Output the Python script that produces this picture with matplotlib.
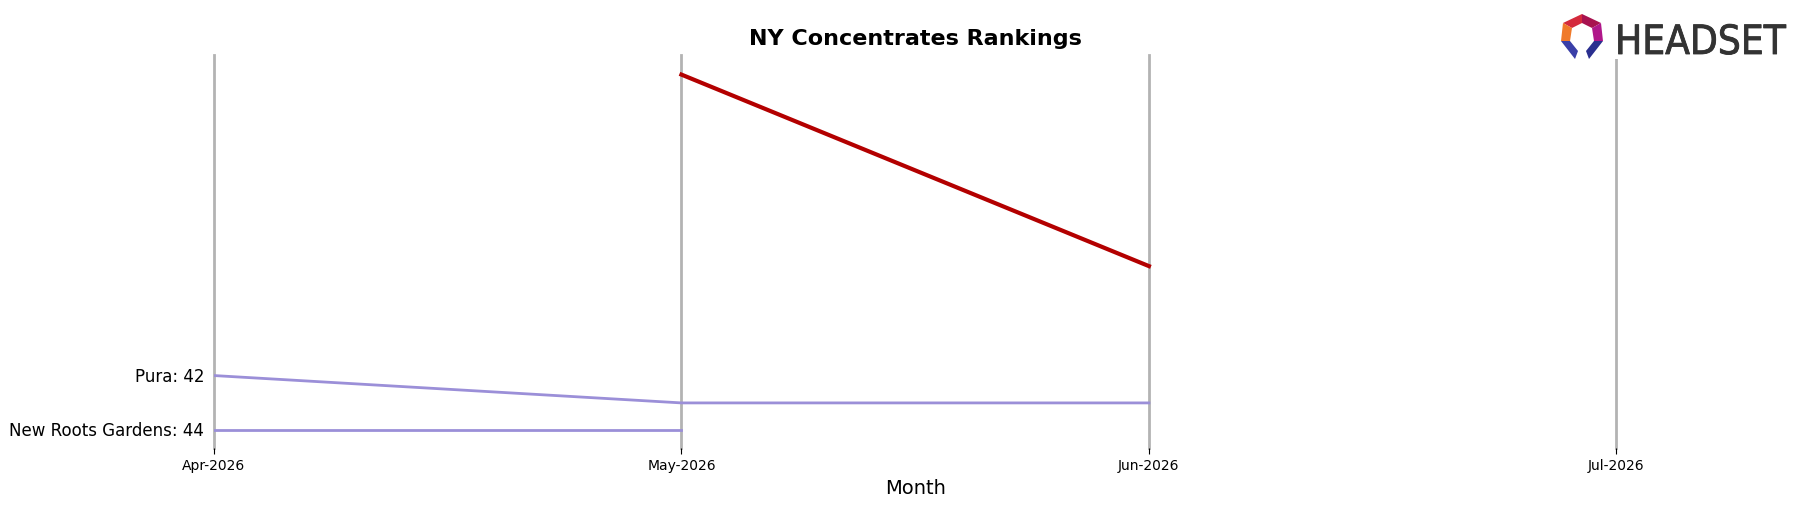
import matplotlib
matplotlib.use("Agg")
import matplotlib.pyplot as plt
from matplotlib.patches import Polygon, Rectangle
import matplotlib.patheffects as pe
import numpy as np

months = ["Apr-2026", "May-2026", "Jun-2026", "Jul-2026"]
brand_ranks = [np.nan, 31, 38, np.nan]
pura_ranks = [42, 43, 43, np.nan]
new_roots_ranks = [44, 44, np.nan, np.nan]
others = {"Pura": pura_ranks, "New Roots Gardens": new_roots_ranks}

fig = plt.figure(figsize=(17.98, 5.06), dpi=100)
ax = fig.add_axes([0.119, 0.112, 0.780, 0.777])
x = np.arange(len(months))

for xi in x:
    ax.axvline(xi, color="#b3b3b3", lw=2, zorder=1, clip_on=False)

for name, vals in others.items():
    ax.plot(x, vals, color="#9b8fd8", lw=2, zorder=2)
ax.plot(x, brand_ranks, color="#b30000", lw=3, zorder=3)

ax.set_xlim(0, 3)
ax.set_ylim(44.66, 30.29)
ax.set_xticks(x)
ax.set_xticklabels(months, fontsize=10)
ax.tick_params(axis="x", length=4, pad=3)
ax.set_yticks([v[0] for v in others.values()])
ax.set_yticklabels([f"{n}: {v[0]}" for n, v in others.items()], fontsize=12,
                   va="center")
ax.tick_params(axis="y", length=0, pad=7)
for s in ax.spines.values():
    s.set_visible(False)
ax.set_xlabel("Month", fontsize=14)
ax.set_title("NY Concentrates Rankings", fontsize=16, fontweight="bold", pad=8)

# Logo
W, H = 1798, 506
def fp(pts):
    return [(px / W, 1 - py / H) for px, py in pts]
fig.patches.append(Rectangle((1555 / W, 1 - 60 / H), 240 / W, 60 / H, transform=fig.transFigure,
                             facecolor="white", edgecolor="none", zorder=9))
shapes = [
    ([(1563, 24), (1582, 15), (1582, 24), (1572, 29)], "#d42a3c"),
    ([(1582, 15), (1601, 24), (1592, 29), (1582, 24)], "#a8124f"),
    ([(1563, 24), (1572, 29), (1570, 42), (1561, 42)], "#f07a2a"),
    ([(1601, 24), (1603, 42), (1594, 42), (1592, 29)], "#b0178a"),
    ([(1561, 42), (1570, 42), (1578, 52), (1575, 60)], "#3a3fa8"),
    ([(1603, 42), (1594, 42), (1586, 52), (1589, 60)], "#2a2f8f"),
]
for pts, c in shapes:
    fig.patches.append(Polygon(fp(pts), closed=True, transform=fig.transFigure,
                               facecolor=c, edgecolor="none", zorder=10))
fig.text(1615 / W, 1 - 55 / H, "HEADSET", fontsize=29, color="#333333",
         va="baseline", ha="left", family="DejaVu Sans", fontstretch="condensed",
         zorder=11, path_effects=[pe.withStroke(linewidth=0.6, foreground="#333333")])

fig.savefig("out.png", dpi=100)
